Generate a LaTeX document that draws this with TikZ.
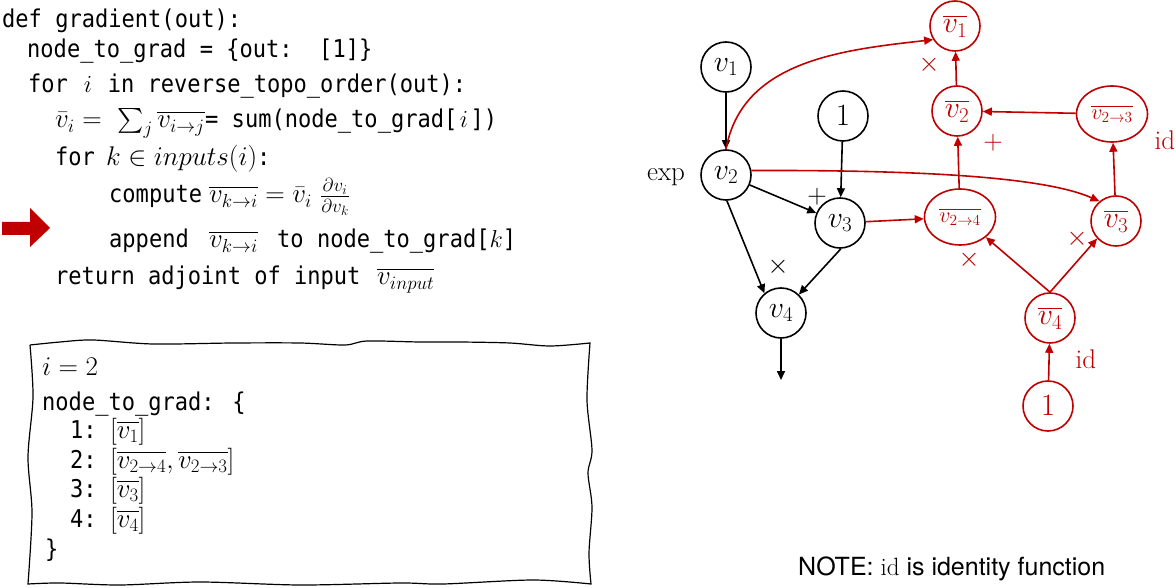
\RequirePackage{fix-cm}
\documentclass[tikz,border=0pt]{standalone}
\usepackage{amsmath}
\usepackage{fontspec}
\usetikzlibrary{arrows.meta,shapes.geometric}
\newfontfamily\codefont{DejaVu Sans Mono}[FakeStretch=0.9]
\newfontfamily\notefont{TeX Gyre Heros}
\definecolor{dred}{HTML}{C00000}
\newcommand\cd[1]{{\codefont\fontsize{24.5}{28}\selectfont #1}}
\newcommand\mi[1]{\makebox[13.27pt]{$#1$}}
\begin{document}
\begin{tikzpicture}[x=1pt,y=-1pt,
  txt/.style={anchor=base west, inner sep=0pt, font=\fontsize{27}{30}\selectfont},
  bn/.style={circle, draw, line width=1.6pt, minimum size=50pt, inner sep=0pt, font=\fontsize{30}{32}\selectfont},
  rn/.style={bn, draw=dred, text=dred},
  rell/.style={ellipse, draw=dred, text=dred, line width=1.6pt, minimum width=71pt, minimum height=56pt, inner sep=0pt, font=\fontsize{22}{24}\selectfont},
  lbl/.style={inner sep=0pt, font=\fontsize{27}{30}\selectfont},
  rlbl/.style={lbl, text=dred},
  barr/.style={-{Triangle[length=9pt,width=8pt]}, line width=1.6pt},
  rarr/.style={barr, draw=dred, -{Triangle[length=9pt,width=8pt,fill=dred]}}
]
\useasboundingbox (0,0) rectangle (1176,588);
% ---------- code ----------
\node[txt] (l1) at (2,28) {\cd{def gradient(out):}};
\node[txt] (l2) at (27,58) {\cd{node\_to\_grad = \{out:~~[1]\}}};
\node[txt] (l3) at (28,93) {\cd{for \mi{i} in reverse\_topo\_order(out):}};
\node[txt] (l4a) at (55,128) {$\bar v_i =\ \sum_j \overline{v_{i\to j}}$};
\node[txt] (l4b) at (205,128) {\cd{= sum(node\_to\_grad[\mi{i}])}};
\node[txt] (l5a) at (55,166) {\cd{for}};
\node[txt] (l5b) at (106,166) {$k \in inputs(i)$\cd{:}};
\node[txt] (l6a) at (109,203) {\cd{compute}};
\node[txt] (l6b) at (209,203) {$\overline{v_{k\to i}} = \bar v_i\ \frac{\partial v_i}{\partial v_k}$};
\node[txt] (l7a) at (109,248) {\cd{append}};
\node[txt] (l7b) at (209,248) {$\overline{v_{k\to i}}$};
\node[txt] (l7c) at (277,248) {\cd{to node\_to\_grad[\mi{k}]}};
\node[txt] (l8a) at (55,285) {\cd{return adjoint of input}};
\node[txt] (l8b) at (377,285) {$\overline{v_{input}}$};
% red pointer arrow
\fill[dred] (2,222) -- (30,222) -- (30,208) -- (50,228) -- (30,247) -- (30,235) -- (2,235) -- cycle;
% ---------- box ----------
\draw[line width=1.2pt] plot[smooth] coordinates {(30,345) (60,342) (93,340) (153,344) (233,343) (300,343) (345,345) (367,341) (420,342) (460,342) (510,343) (550,346) (590,343)}
  -- plot[smooth] coordinates {(590,343) (587,400) (592,450) (588,473) (592,507) (589,553) (591,584)}
  -- plot[smooth] coordinates {(591,584) (533,580) (443,584) (400,583) (300,585) (200,582) (120,585) (60,583) (28,584)}
  -- plot[smooth] coordinates {(28,584) (32,513) (28,457) (33,397) (30,345)};
\node[txt] (b1) at (42,375) {$i = 2$};
\node[txt] (b2) at (42,410) {\cd{node\_to\_grad: \{}};
\node[txt] (b3) at (70,438) {\cd{1:~}$[\overline{v_1}]$};
\node[txt] (b4) at (70,468) {\cd{2:~}$[\overline{v_{2\to4}},\overline{v_{2\to3}}]$};
\node[txt] (b5) at (70,497) {\cd{3:~}$[\overline{v_3}]$};
\node[txt] (b6) at (70,527) {\cd{4:~}$[\overline{v_4}]$};
\node[txt] (b7) at (45,557) {\cd{\}}};
% ---------- forward graph ----------
\node[bn] (v1) at (726,67) {$v_1$};
\node[bn, font=\fontsize{31}{32}\selectfont] (one) at (843,116) {$1$};
\node[bn] (v2) at (726,175) {$v_2$};
\node[bn] (v3) at (840,223) {$v_3$};
\node[bn] (v4) at (781,313) {$v_4$};
\coordinate (out) at (781,380);
\node[lbl] (lexp) at (666,177) {exp};
\node[lbl] (lplus) at (817,197) {$+$};
\node[lbl] (ltimes) at (778,267) {$\times$};
\draw[barr] (v1) -- (v2);
\draw[barr] (one) -- (v3);
\draw[barr] (v2) -- (v3);
\draw[barr] (v2.-88) -- (v4.130);
\draw[barr] (v3.-88) -- (v4.46);
\draw[barr] (v4) -- (out);
% ---------- adjoint graph ----------
\node[rn] (v1b) at (955,26) {$\overline{v_1}$};
\node[rn] (v2b) at (957,111) {$\overline{v_2}$};
\node[rell] (v23b) at (1112,114) {$\overline{v_{2\to3}}$};
\node[rell] (v24b) at (960,217) {$\overline{v_{2\to4}}$};
\node[rn] (v3b) at (1116,221) {$\overline{v_3}$};
\node[rn] (v4b) at (1050,318) {$\overline{v_4}$};
\node[rn, font=\fontsize{31}{32}\selectfont] (oneb) at (1048,406) {$1$};
\node[rlbl] (rt1) at (929,65) {$\times$};
\node[rlbl] (rp) at (993,143) {$+$};
\node[rlbl] (rt2) at (1077,239) {$\times$};
\node[rlbl] (rt3) at (969,260) {$\times$};
\node[rlbl] (rid1) at (1165,140) {id};
\node[rlbl] (rid2) at (1086,359) {id};
\draw[rarr] (v2.north) .. controls (742,61) and (841,50) .. (v1b.212);
\draw[rarr] (v2.10) .. controls (900,170) and (1040,175) .. (v3b.130);
\draw[rarr] (v3) -- (v24b);
\draw[rarr] (v2b) -- (v1b);
\draw[rarr] (v23b) -- (v2b);
\draw[rarr] (v24b) -- (v2b);
\draw[rarr] (v3b) -- (v23b);
\draw[rarr] (v4b.north) -- (v24b.-38);
\draw[rarr] (v4b.north) -- (v3b.-137);
\draw[rarr] (oneb) -- (v4b);
% ---------- note ----------
\node[anchor=base west, inner sep=0pt, font=\notefont\fontsize{25}{30}\selectfont] (note) at (798,575) {NOTE: {\rmfamily id} is identity function};
\end{tikzpicture}
\end{document}
